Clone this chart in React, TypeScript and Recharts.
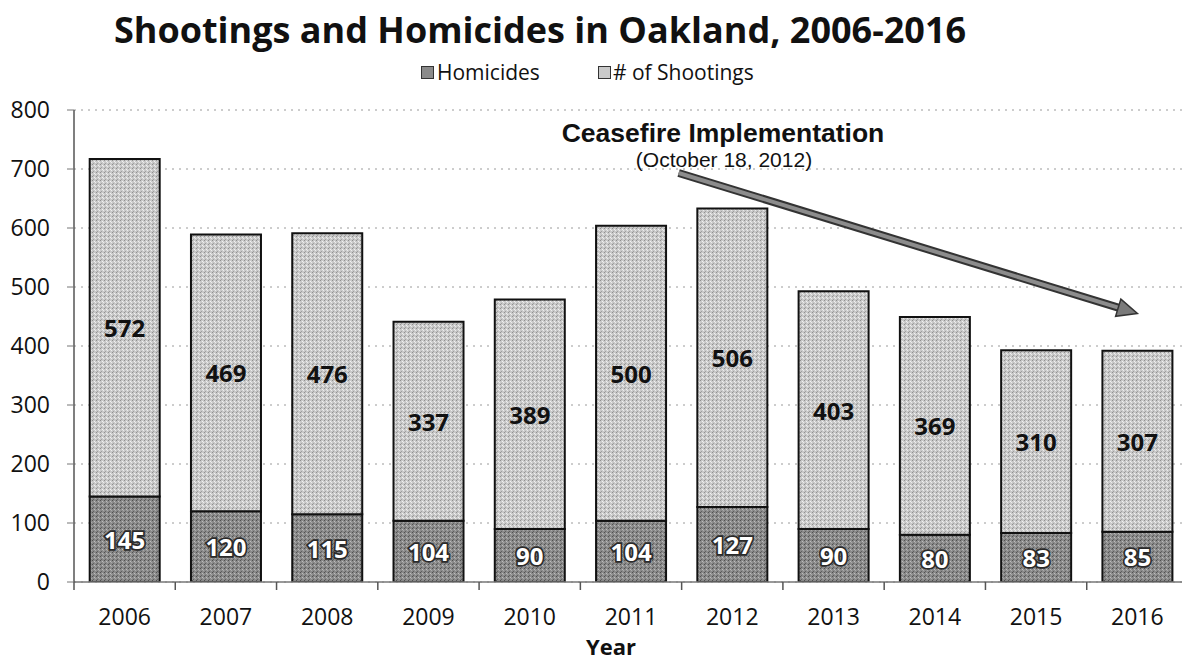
import React from 'react';
import { BarChart, Bar, XAxis, YAxis, CartesianGrid, LabelList, ReferenceLine } from 'recharts';

const years = ['2006', '2007', '2008', '2009', '2010', '2011', '2012', '2013', '2014', '2015', '2016'];
const homicides = [145, 120, 115, 104, 90, 104, 127, 90, 80, 83, 85];
const shootings = [572, 469, 476, 337, 389, 500, 506, 403, 369, 310, 307];
const yTicks = [0, 100, 200, 300, 400, 500, 600, 700, 800];

// arrow: from 2011 to 2016 on value scale, start trimmed a bit
const arrowFrom = { year: '2011', value: 718 };
const arrowTo = { year: '2016', value: 455 };
const arrowStartT = 0.094;

const data = years.map((year, i) => ({
  year,
  homicides: homicides[i],
  shootings: shootings[i],
}));

const FONT = '"Open Sans", sans-serif';
const ARIAL = '"Liberation Sans", Arial, sans-serif';

const XTick = (props: any) => {
  const { x, y, payload } = props;
  const half = payload.offset || 0;
  return (
    <g>
      <line x1={x - half} x2={x - half} y1={y} y2={y + 8} stroke="#555" strokeWidth={1.5} />
      <text x={x} y={y + 34} textAnchor="middle" dominantBaseline="central" fontFamily={FONT} fontSize={23} fill="#111">
        {payload.value}
      </text>
    </g>
  );
};

const centerLabel = (color: string, outline: boolean) => (props: any) => {
  const { x, y, width, height, value } = props;
  return (
    <text
      x={x + width / 2}
      y={y + height / 2}
      textAnchor="middle"
      dominantBaseline="central"
      fontFamily={FONT}
      fontWeight={700}
      fontSize={24}
      fill={color}
      stroke={outline ? '#2a2a2a' : 'none'}
      strokeWidth={outline ? 3.5 : 0}
      paintOrder="stroke"
    >
      {value}
    </text>
  );
};

const Arrow = (props: any) => {
  const { x1, y1, x2, y2 } = props;
  const sx = x1 + (x2 - x1) * arrowStartT;
  const sy = y1 + (y2 - y1) * arrowStartT;
  const dx = x2 - sx;
  const dy = y2 - sy;
  const len = Math.sqrt(dx * dx + dy * dy);
  const ux = dx / len;
  const uy = dy / len;
  const head = 20;
  const bx = x2 - ux * head;
  const by = y2 - uy * head;
  const px = -uy * 9;
  const py = ux * 9;
  return (
    <g>
      <line x1={sx} y1={sy} x2={bx} y2={by} stroke="#333" strokeWidth={8} />
      <line x1={sx} y1={sy} x2={bx} y2={by} stroke="#8c8c8c" strokeWidth={4} />
      <polygon
        points={`${x2},${y2} ${bx + px},${by + py} ${bx - px},${by - py}`}
        fill="#7a7a7a"
        stroke="#333"
        strokeWidth={1.5}
      />
    </g>
  );
};

export default function App() {
  return (
    <div style={{ position: 'absolute', left: 0, top: 0, width: 1182, height: 661, overflow: 'hidden', background: '#fff' }}>
      <svg width={0} height={0} style={{ position: 'absolute' }}>
        <defs>
          <pattern id="darkFill" width={4} height={4} patternUnits="userSpaceOnUse">
            <rect width={4} height={4} fill="#8a8a8a" />
            <rect x={0} y={0} width={1} height={1} fill="#505050" />
            <rect x={2} y={1} width={1} height={1} fill="#bdbdbd" />
            <rect x={1} y={3} width={1} height={1} fill="#606060" />
            <rect x={3} y={2} width={1} height={1} fill="#aaa" />
          </pattern>
          <pattern id="lightFill" width={4} height={4} patternUnits="userSpaceOnUse">
            <rect width={4} height={4} fill="#c9c9c9" />
            <rect x={0} y={0} width={1} height={1} fill="#909090" />
            <rect x={2} y={1} width={1} height={1} fill="#f2f2f2" />
            <rect x={1} y={3} width={1} height={1} fill="#a0a0a0" />
            <rect x={3} y={2} width={1} height={1} fill="#ececec" />
          </pattern>
        </defs>
      </svg>

      <div style={{ position: 'absolute', left: 0, top: 5, width: 1080, textAlign: 'center', fontFamily: FONT, fontWeight: 700, fontSize: 36, lineHeight: '50px', color: '#111' }}>
        Shootings and Homicides in Oakland, 2006-2016
      </div>

      <div style={{ position: 'absolute', left: 421, top: 58, display: 'flex', alignItems: 'center', fontFamily: FONT, fontSize: 21, lineHeight: '28px', color: '#111' }}>
        <span style={{ display: 'inline-block', width: 11, height: 11, backgroundColor: '#8a8a8a', border: '1px solid #333', marginRight: 3 }} />
        <span>Homicides</span>
        <span style={{ display: 'inline-block', width: 11, height: 11, backgroundColor: '#c9c9c9', border: '1px solid #333', marginLeft: 58, marginRight: 2 }} />
        <span># of Shootings</span>
      </div>

      <div style={{ position: 'absolute', left: 523, top: 117, width: 400, textAlign: 'center', fontFamily: ARIAL, fontWeight: 700, fontSize: 26.5, lineHeight: '32px', color: '#111' }}>
        Ceasefire Implementation
      </div>
      <div style={{ position: 'absolute', left: 524, top: 147, width: 400, textAlign: 'center', fontFamily: ARIAL, fontSize: 21, lineHeight: '26px', color: '#111' }}>
        (October 18, 2012)
      </div>

      <div style={{ position: 'absolute', left: 511, top: 631, width: 200, textAlign: 'center', fontFamily: FONT, fontWeight: 700, fontSize: 22, lineHeight: '30px', color: '#111' }}>
        Year
      </div>

      <BarChart
        width={1200}
        height={661}
        data={data}
        margin={{ top: 110, right: 12, bottom: 39, left: 0 }}
        barCategoryGap="15.5%"
      >
        <CartesianGrid vertical={false} stroke="#9a9a9a" strokeDasharray="2 5" />
        <XAxis
          dataKey="year"
          height={40}
          tickSize={0}
          tickMargin={0}
          tickLine={false}
          axisLine={{ stroke: '#777', strokeWidth: 1.5 }}
          tick={<XTick />}
          interval={0}
        />
        <YAxis
          width={74}
          domain={[0, 800]}
          ticks={yTicks}
          tickSize={7}
          tickMargin={17}
          tickLine={{ stroke: '#777' }}
          axisLine={{ stroke: '#555', strokeWidth: 1.5 }}
          tick={{ fontFamily: FONT, fontSize: 23, fill: '#111' }}
          allowDataOverflow
        />
        <Bar dataKey="homicides" stackId="a" fill="url(#darkFill)" stroke="#111" strokeWidth={2} isAnimationActive={false}>
          <LabelList dataKey="homicides" content={centerLabel('#fff', true)} />
        </Bar>
        <Bar dataKey="shootings" stackId="a" fill="url(#lightFill)" stroke="#111" strokeWidth={2} isAnimationActive={false}>
          <LabelList dataKey="shootings" content={centerLabel('#111', false)} />
        </Bar>
        <ReferenceLine
          segment={[
            { x: arrowFrom.year, y: arrowFrom.value },
            { x: arrowTo.year, y: arrowTo.value },
          ]}
          shape={<Arrow />}
          ifOverflow="visible"
        />
      </BarChart>
    </div>
  );
}
